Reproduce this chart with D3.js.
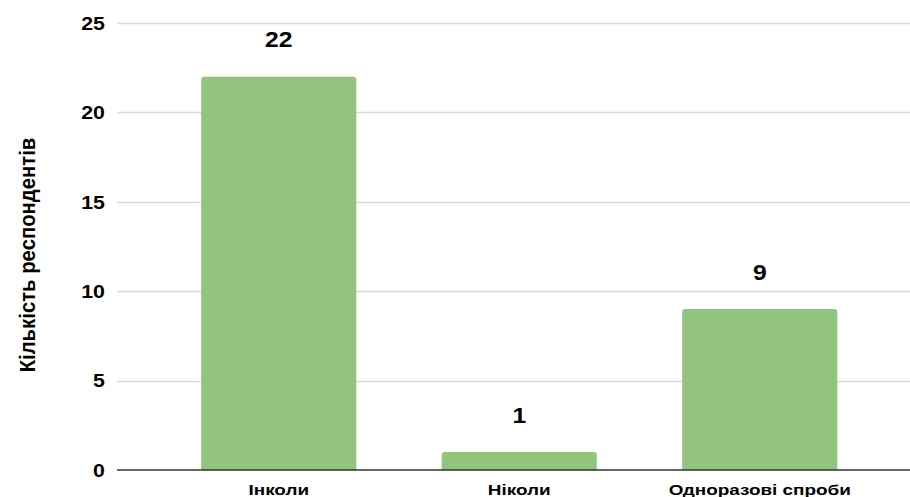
<!DOCTYPE html>
<html>
<head>
<meta charset="utf-8">
<script src="https://cdn.jsdelivr.net/npm/d3@7"></script>
<style>
  html, body { margin: 0; padding: 0; background: #fff; }
  svg { display: block; }
  text { font-family: "Liberation Sans", Arial, sans-serif; font-weight: bold; fill: #000; }
</style>
</head>
<body>
<svg id="chart" width="910" height="497"></svg>
<script>
// Відповіді респондентів
const categories = ["Інколи", "Ніколи", "Одноразові спроби"];
const counts = [22, 1, 9];
const yTicks = [0, 5, 10, 15, 20, 25];
const yTitle = "Кількість респондентів";

const W = 910, H = 497;
const svg = d3.select("#chart");

// Glyphs in this chart are drawn slightly wide
const stretch = 1.22;

const y = d3.scaleLinear().domain([0, 25]).range([470, 23]);
const x = d3.scaleBand()
  .domain(categories)
  .range([158.5, 880])
  .paddingInner(0.355)
  .paddingOuter(0.1775);

const gridX0 = 117, gridX1 = W;

// Horizontal gridlines
svg.append("g")
  .selectAll("line")
  .data(yTicks.filter(t => t !== 0))
  .join("line")
  .attr("x1", gridX0).attr("x2", gridX1)
  .attr("y1", d => Math.round(y(d)) + 0.5)
  .attr("y2", d => Math.round(y(d)) + 0.5)
  .attr("stroke", "#d9d9d9")
  .attr("stroke-width", 1.3);

// Y tick labels
const yAxis = d3.axisLeft(y).tickValues(yTicks).tickSize(0).tickPadding(0);
const yG = svg.append("g").attr("transform", `translate(${gridX0 - 12},0)`).call(yAxis);
yG.select(".domain").remove();
yG.selectAll(".tick text")
  .attr("font-size", 17.5)
  .attr("font-family", "Liberation Sans, Arial, sans-serif")
  .attr("font-weight", "bold")
  .attr("fill", "#000")
  .attr("dy", "0.36em")
  .attr("transform", `scale(${stretch},1)`);

// Bars with rounded top corners
const r = 3;
function barPath(d, i) {
  const x0 = x(categories[i]);
  const w = x.bandwidth();
  const top = y(d);
  const bottom = y(0);
  return `M${x0},${bottom}V${top + r}Q${x0},${top} ${x0 + r},${top}` +
         `H${x0 + w - r}Q${x0 + w},${top} ${x0 + w},${top + r}V${bottom}Z`;
}
svg.append("g")
  .selectAll("path")
  .data(counts)
  .join("path")
  .attr("d", barPath)
  .attr("fill", "#93c47d");

// Baseline
svg.append("line")
  .attr("x1", gridX0).attr("x2", gridX1)
  .attr("y1", y(0)).attr("y2", y(0))
  .attr("stroke", "#333")
  .attr("stroke-width", 1.5);

// Value labels above bars
svg.append("g")
  .selectAll("g")
  .data(counts)
  .join("g")
  .attr("transform", (d, i) => `translate(${x(categories[i]) + x.bandwidth() / 2},${y(d) - 29.5})`)
  .append("text")
  .attr("text-anchor", "middle")
  .attr("font-size", 22)
  .attr("transform", "scale(1.12,1)")
  .text(d => d);

// Category labels
svg.append("g")
  .selectAll("g")
  .data(categories)
  .join("g")
  .attr("transform", d => `translate(${x(d) + x.bandwidth() / 2},494.5)`)
  .append("text")
  .attr("text-anchor", "middle")
  .attr("font-size", 15.5)
  .attr("transform", `scale(${stretch},1)`)
  .text(d => d);

// Y axis title
svg.append("text")
  .attr("text-anchor", "middle")
  .attr("font-size", 20.3)
  .attr("transform", `translate(34.5,255) rotate(-90) scale(1,1.12)`)
  .text(yTitle);
</script>
</body>
</html>
